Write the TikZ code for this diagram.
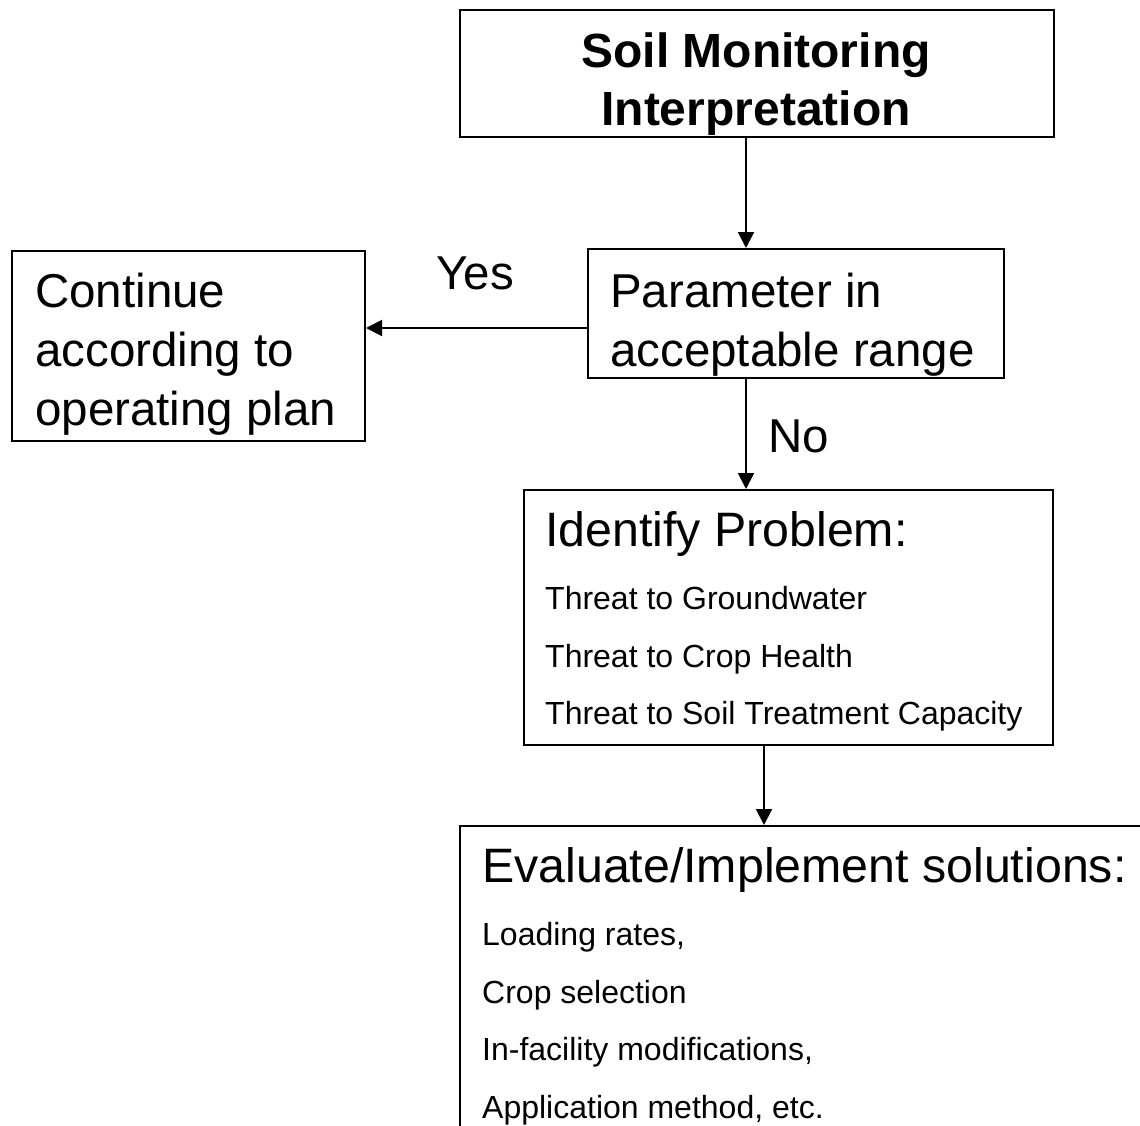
\documentclass[tikz,border=0pt]{standalone}
\usepackage{fontspec}
\setmainfont{Liberation Sans}
\usetikzlibrary{arrows.meta}
\begin{document}
\begin{tikzpicture}[x=1pt,y=-1pt,
  box/.style={draw, line width=2pt, inner sep=0pt, anchor=north west},
  big/.style={font=\fontsize{48.3}{59}\selectfont, anchor=base west, inner sep=0pt},
  bigk/.style={font=\fontsize{47.5}{59}\selectfont, anchor=base west, inner sep=0pt},
  bigb/.style={font=\fontsize{48}{58}\selectfont\bfseries, anchor=base, inner sep=0pt},
  small/.style={font=\fontsize{32}{38}\selectfont, anchor=base west, inner sep=0pt},
  arr/.style={line width=2pt, -{Triangle[length=16pt,width=16pt]}}]
\clip (0,0) rectangle (1140,1125);
\fill[white] (0,0) rectangle (1140,1125);
% boxes
\node[box, minimum width=594pt, minimum height=127pt] (top) at (459,9) {};
\node[box, minimum width=416pt, minimum height=129pt] (param) at (587,248) {};
\node[box, minimum width=353pt, minimum height=190pt] (cont) at (11,250) {};
\node[box, minimum width=529pt, minimum height=255pt] (ident) at (523,489) {};
\node[box, minimum width=800pt, minimum height=400pt] (eval) at (459,825) {};
% texts
\node[bigb] (t1) at (756,67) {Soil Monitoring};
\node[bigb] (t2) at (756,125) {Interpretation};
\node[bigk] (p1) at (610,307) {Parameter in};
\node[bigk] (p2) at (610,366) {acceptable range};
\node[bigk] (k1) at (35,307) {Continue};
\node[bigk] (k2) at (35,366) {according to};
\node[bigk] (k3) at (35,425) {operating plan};
\node[bigk, anchor=base] (yes) at (475,289) {Yes};
\node[bigk] (no) at (768,452) {No};
\node[big] (i0) at (545,546) {Identify Problem:};
\node[small] (i1) at (545,609) {Threat to Groundwater};
\node[small] (i2) at (545,667) {Threat to Crop Health};
\node[small] (i3) at (545,724) {Threat to Soil Treatment Capacity};
\node[big] (e0) at (482,882) {Evaluate/Implement solutions:};
\node[small] (e1) at (482,945) {Loading rates,};
\node[small] (e2) at (482,1003) {Crop selection};
\node[small] (e3) at (482,1060) {In-facility modifications,};
\node[small] (e4) at (482,1118) {Application method, etc.};
% connectors
\coordinate (c1) at (746,0);
\coordinate (c2) at (0,328);
\coordinate (c3) at (764,0);
\draw[arr] (top.south -| c1) -- (param.north -| c1);
\draw[arr] (param.west |- c2) -- (cont.east |- c2);
\draw[arr] (param.south -| c1) -- (ident.north -| c1);
\draw[arr] (ident.south -| c3) -- (eval.north -| c3);
\end{tikzpicture}
\end{document}
